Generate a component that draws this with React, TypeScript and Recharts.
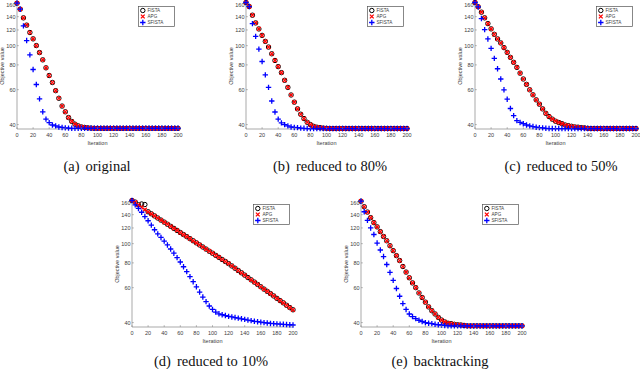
import React from "react";
import { ScatterChart, Scatter, XAxis, YAxis } from "recharts";

// iteration index of every plotted marker
const iterations = [
  0, 4, 8, 12, 16, 20, 24, 28, 32, 36, 40, 44, 48, 52, 56, 60, 64, 68, 72, 76, 80,
  84, 88, 92, 96, 100, 104, 108, 112, 116, 120, 124, 128, 132, 136, 140, 144, 148,
  152, 156, 160, 164, 168, 172, 176, 180, 184, 188, 192, 196, 200,
];
const xTicks = [0, 20, 40, 60, 80, 100, 120, 140, 160, 180, 200];
const yTicks = [40, 60, 80, 100, 120, 140, 160];
const seriesNames = ["FISTA", "APG", "SFISTA"];

// (a) original
const fistaA = [
  163.7, 152.7, 138.1, 126.9, 116.5, 108.2, 100.1, 92.3, 84.8, 77.3, 70.7, 65.2,
  59.3, 54.3, 49.6, 46.4, 43.4, 41.5, 40.2, 39.4, 38.9, 38.7, 38.5, 38.4, 38.3,
  38.3, 38.3, 38.3, 38.3, 38.3, 38.3, 38.3, 38.3, 38.3, 38.3, 38.3, 38.3, 38.3,
  38.3, 38.3, 38.3, 38.3, 38.3, 38.3, 38.3, 38.3, 38.3, 38.3, 38.3, 38.3, 38.3,
];
const apgA = [
  163.7, 152.7, 138.1, 126.9, 116.5, 108.2, 100.1, 92.3, 84.8, 77.3, 70.7, 65.2,
  59.3, 54.3, 49.6, 46.4, 43.4, 41.5, 40.2, 39.4, 38.9, 38.7, 38.5, 38.4, 38.3,
  38.3, 38.3, 38.3, 38.3, 38.3, 38.3, 38.3, 38.3, 38.3, 38.3, 38.3, 38.3, 38.3,
  38.3, 38.3, 38.3, 38.3, 38.3, 38.3, 38.3, 38.3, 38.3, 38.3, 38.3, 38.3, 38.3,
];
const sfistaA = [
  163.7, 152.7, 125.8, 106.1, 89.9, 75.8, 63.7, 53.9, 46.4, 42.6, 40.9, 39.8,
  39.4, 38.9, 38.7, 38.5, 38.4, 38.3, 38.3, 38.3, 38.3, 38.3, 38.3, 38.3, 38.3,
  38.3, 38.3, 38.3, 38.3, 38.3, 38.3, 38.3, 38.3, 38.3, 38.3, 38.3, 38.3, 38.3,
  38.3, 38.3, 38.3, 38.3, 38.3, 38.3, 38.3, 38.3, 38.3, 38.3, 38.3, 38.3, 38.3,
];

// (b) reduced to 80%
const fistaB = [
  165.0, 157.5, 142.4, 130.2, 121.4, 112.7, 105.1, 98.4, 91.0, 84.2, 78.4, 73.1,
  66.9, 61.6, 56.4, 51.9, 48.0, 45.1, 42.9, 41.1, 40.0, 39.2, 38.8, 38.6, 38.4,
  38.3, 38.2, 38.2, 38.2, 38.2, 38.2, 38.2, 38.2, 38.2, 38.2, 38.2, 38.2, 38.2,
  38.2, 38.2, 38.2, 38.2, 38.2, 38.2, 38.2, 38.2, 38.2, 38.2, 38.2, 38.2, 38.2,
];
const apgB = [
  165.0, 157.5, 142.4, 130.2, 121.4, 112.7, 105.1, 98.4, 91.0, 84.2, 78.4, 73.1,
  66.9, 61.6, 56.4, 51.9, 48.0, 45.1, 42.9, 41.1, 40.0, 39.2, 38.8, 38.6, 38.4,
  38.3, 38.2, 38.2, 38.2, 38.2, 38.2, 38.2, 38.2, 38.2, 38.2, 38.2, 38.2, 38.2,
  38.2, 38.2, 38.2, 38.2, 38.2, 38.2, 38.2, 38.2, 38.2, 38.2, 38.2, 38.2, 38.2,
];
const sfistaB = [
  165.0, 157.5, 129.2, 111.4, 96.1, 83.2, 71.2, 61.6, 52.6, 46.3, 42.6, 40.8,
  40.0, 39.4, 38.9, 38.7, 38.6, 38.4, 38.3, 38.2, 38.2, 38.2, 38.2, 38.2, 38.2,
  38.2, 38.2, 38.2, 38.2, 38.2, 38.2, 38.2, 38.2, 38.2, 38.2, 38.2, 38.2, 38.2,
  38.2, 38.2, 38.2, 38.2, 38.2, 38.2, 38.2, 38.2, 38.2, 38.2, 38.2, 38.2, 38.2,
];

// (c) reduced to 50%
const fistaC = [
  165.0, 157.0, 147.5, 138.1, 129.2, 121.5, 114.1, 108.1, 103.2, 97.7, 92.5, 87.3,
  82.4, 77.7, 72.7, 67.9, 63.8, 59.9, 56.5, 53.3, 50.7, 48.0, 45.6, 43.9, 42.6,
  41.6, 41.0, 40.4, 39.8, 39.5, 39.2, 38.9, 38.8, 38.6, 38.5, 38.3, 38.2, 38.2,
  38.2, 38.2, 38.2, 38.2, 38.2, 38.2, 38.2, 38.2, 38.2, 38.2, 38.2, 38.2, 38.2,
];
const apgC = [
  165.0, 157.0, 147.5, 138.1, 129.2, 121.5, 114.1, 108.1, 103.2, 97.7, 92.5, 87.3,
  82.4, 77.7, 72.7, 67.9, 63.8, 59.9, 56.5, 53.3, 50.7, 48.0, 45.6, 43.9, 42.6,
  41.6, 41.0, 40.4, 39.8, 39.5, 39.2, 38.9, 38.8, 38.6, 38.5, 38.3, 38.2, 38.2,
  38.2, 38.2, 38.2, 38.2, 38.2, 38.2, 38.2, 38.2, 38.2, 38.2, 38.2, 38.2, 38.2,
];
const sfistaC = [
  165.0, 157.0, 137.0, 120.5, 108.1, 96.9, 86.3, 76.5, 67.9, 59.9, 53.7, 48.2,
  44.4, 41.9, 41.0, 40.4, 39.8, 39.4, 39.1, 38.8, 38.6, 38.5, 38.3, 38.2, 38.2,
  38.2, 38.2, 38.2, 38.2, 38.2, 38.2, 38.2, 38.2, 38.2, 38.2, 38.2, 38.2, 38.2,
  38.2, 38.2, 38.2, 38.2, 38.2, 38.2, 38.2, 38.2, 38.2, 38.2, 38.2, 38.2, 38.2,
];

// (d) reduced to 10%
const fistaD = [
  165, 162, 157, 158.5, 157.5, 144.8, 141.4, 138.0, 134.7, 131.5, 128.4, 125.3,
  122.3, 119.4, 116.6, 113.8, 111.1, 108.5, 105.9, 103.4, 100.9, 98.5, 96.2, 93.9,
  91.6, 89.5, 87.3, 85.3, 83.2, 81.3, 79.3, 77.2, 75.2, 73.2, 71.3, 69.4, 67.5,
  65.7, 64.0, 62.3, 60.6, 59.0, 57.5, 56.0, 54.5, 53.0, 51.6, 50.3, 48.9, 47.6, 46.4,
];
const apgD = [
  165, 162, 157, 152.5, 148.5, 144.8, 141.4, 138.0, 134.7, 131.5, 128.4, 125.3,
  122.3, 119.4, 116.6, 113.8, 111.1, 108.5, 105.9, 103.4, 100.9, 98.5, 96.2, 93.9,
  91.6, 89.5, 87.3, 85.3, 83.2, 81.3, 79.3, 77.2, 75.2, 73.2, 71.3, 69.4, 67.5,
  65.7, 64.0, 62.3, 60.6, 59.0, 57.5, 56.0, 54.5, 53.0, 51.6, 50.3, 48.9, 47.6, 46.4,
];
const sfistaD = [
  165, 157, 150.5, 144, 137, 130.5, 124, 117.5, 112, 107.5, 103, 98.5, 94, 89.5,
  85, 80.8, 76.5, 72.3, 68.2, 64.3, 60.6, 57, 53.8, 51, 48.5, 46.6, 45.2, 44.3,
  43.8, 43.4, 43.0, 42.7, 42.4, 42.1, 41.8, 41.5, 41.2, 40.9, 40.6, 40.4, 40.2,
  40.0, 39.8, 39.6, 39.5, 39.4, 39.3, 39.2, 39.1, 39.0, 38.9,
];

// (e) backtracking
const fistaE = [
  163.7, 153.5, 144.3, 135.2, 127.6, 121.5, 115.0, 108.7, 103.4, 97.6, 92.2, 87.0,
  82.2, 76.7, 71.9, 67.3, 63.4, 60.0, 56.4, 53.5, 50.7, 48.0, 45.9, 44.2, 42.5,
  41.2, 40.3, 39.7, 39.5, 39.2, 39.0, 38.9, 38.7, 38.5, 38.5, 38.5, 38.5, 38.5,
  38.5, 38.5, 38.5, 38.5, 38.5, 38.5, 38.5, 38.5, 38.5, 38.5, 38.5, 38.5, 38.5,
];
const apgE = [
  163.7, 153.5, 144.3, 135.2, 127.6, 121.5, 115.0, 108.7, 103.4, 97.6, 92.2, 87.0,
  82.2, 76.7, 71.9, 67.3, 63.4, 60.0, 56.4, 53.5, 50.7, 48.0, 45.9, 44.2, 42.5,
  41.2, 40.3, 39.7, 39.5, 39.2, 39.0, 38.9, 38.7, 38.5, 38.5, 38.5, 38.5, 38.5,
  38.5, 38.5, 38.5, 38.5, 38.5, 38.5, 38.5, 38.5, 38.5, 38.5, 38.5, 38.5, 38.5,
];
const sfistaE = [
  163.7, 144.8, 131.1, 120.0, 111.2, 100.7, 92.9, 86.1, 78.5, 71.6, 65.3, 59.4,
  54.3, 49.9, 46.6, 44.2, 42.9, 41.9, 41.1, 40.5, 40.0, 39.7, 39.5, 39.2, 39.0,
  38.9, 38.7, 38.5, 38.5, 38.5, 38.5, 38.5, 38.5, 38.5, 38.5, 38.5, 38.5, 38.5,
  38.5, 38.5, 38.5, 38.5, 38.5, 38.5, 38.5, 38.5, 38.5, 38.5, 38.5, 38.5, 38.5,
];

const PLOT_W = 161;
const PLOT_H = 127;
const PAD_L = 22;
const PAD_T = 6;
const PAD_R = 6;
const PAD_B = 14;
const Y_DOMAIN = [38, 166];
const AXIS = "#858585";
const TEXT = "#3c3c3c";
const SANS = "'Liberation Sans', Arial, sans-serif";
const TICK_FONT = 5.5;

const toPoints = (values: number[]) =>
  iterations.map((it, i) => ({ it, value: values[i] }));

const Ring = (p: any) => (
  <circle cx={p.cx} cy={p.cy} r={2.2} fill="none" stroke="#000" strokeWidth={1} />
);
const Ex = (p: any) => {
  const s = 1.9;
  return (
    <path
      d={`M${p.cx - s},${p.cy - s}L${p.cx + s},${p.cy + s}M${p.cx - s},${p.cy + s}L${p.cx + s},${p.cy - s}`}
      stroke="#ff0000"
      strokeWidth={1.3}
      fill="none"
    />
  );
};
const Plus = (p: any) => {
  const s = 2.7;
  return (
    <path
      d={`M${p.cx - s},${p.cy}H${p.cx + s}M${p.cx},${p.cy - s}V${p.cy + s}`}
      stroke="#0000ff"
      strokeWidth={1.3}
      fill="none"
    />
  );
};
const markers = [Ring, Ex, Plus];

const BottomTick = (p: any) => (
  <g>
    <line x1={p.x} y1={p.y} x2={p.x} y2={p.y - 1.8} stroke={AXIS} strokeWidth={0.6} />
    <text x={p.x} y={p.y + 6} textAnchor="middle" dominantBaseline="central"
      fontSize={TICK_FONT} fill={TEXT} fontFamily={SANS}>
      {p.payload.value}
    </text>
  </g>
);
const LeftTick = (p: any) => (
  <g>
    <line x1={p.x} y1={p.y} x2={p.x + 1.8} y2={p.y} stroke={AXIS} strokeWidth={0.6} />
    <text x={p.x - 1.5} y={p.y} textAnchor="end" dominantBaseline="central"
      fontSize={TICK_FONT} fill={TEXT} fontFamily={SANS}>
      {p.payload.value}
    </text>
  </g>
);
const TopTick = (p: any) => (
  <line x1={p.x} y1={p.y} x2={p.x} y2={p.y + 1.8} stroke={AXIS} strokeWidth={0.6} />
);
const RightTick = (p: any) => (
  <line x1={p.x} y1={p.y} x2={p.x - 1.8} y2={p.y} stroke={AXIS} strokeWidth={0.6} />
);

function LegendBox({ left, top }: { left: number; top: number }) {
  return (
    <svg width={37} height={21} style={{ position: "absolute", left, top }}>
      <rect x={0.5} y={0.5} width={36} height={20} fill="#fff" stroke="#555" strokeWidth={0.7} />
      {seriesNames.map((name, i) => {
        const Marker = markers[i];
        return (
          <g key={name}>
            <Marker cx={4.8} cy={4.5 + i * 6} />
            <text x={9.5} y={4.5 + i * 6} dominantBaseline="central" fontSize={4.6}
              fill={TEXT} fontFamily={SANS}>
              {name}
            </text>
          </g>
        );
      })}
    </svg>
  );
}

type PanelProps = {
  left: number;
  top: number;
  series: number[][];
  caption: [string, string];
  captionX: number;
  captionY: number;
};

function Panel({ left, top, series, caption, captionX, captionY }: PanelProps) {
  return (
    <>
      <div style={{ position: "absolute", left: left - PAD_L, top: top - PAD_T }}>
        <ScatterChart
          width={PAD_L + PLOT_W + PAD_R}
          height={PAD_T + PLOT_H + PAD_B}
          margin={{ top: PAD_T, right: PAD_R, bottom: 0, left: 0 }}
        >
          <XAxis type="number" dataKey="it" domain={[0, 200]} ticks={xTicks}
            height={PAD_B} tickSize={0} tickMargin={0} tickLine={false}
            axisLine={{ stroke: AXIS, strokeWidth: 0.7 }} tick={BottomTick} interval={0} />
          <XAxis xAxisId="top" orientation="top" type="number" domain={[0, 200]}
            ticks={xTicks} height={0} tickSize={0} tickMargin={0} tickLine={false}
            axisLine={{ stroke: AXIS, strokeWidth: 0.7 }} tick={TopTick} interval={0} />
          <YAxis type="number" dataKey="value" scale="log" domain={Y_DOMAIN}
            ticks={yTicks} width={PAD_L} tickSize={0} tickMargin={0} tickLine={false}
            axisLine={{ stroke: AXIS, strokeWidth: 0.7 }} tick={LeftTick} interval={0} />
          <YAxis yAxisId="right" orientation="right" type="number" scale="log"
            domain={Y_DOMAIN} ticks={yTicks} width={0} tickSize={0} tickMargin={0}
            tickLine={false} axisLine={{ stroke: AXIS, strokeWidth: 0.7 }}
            tick={RightTick} interval={0} />
          {series.map((vals, i) => (
            <Scatter key={seriesNames[i]} name={seriesNames[i]} data={toPoints(vals)}
              shape={markers[i]} isAnimationActive={false} />
          ))}
        </ScatterChart>
      </div>
      <LegendBox left={left + PLOT_W - 40} top={top + 4} />
      <div style={{
        position: "absolute", left: left - 15, top: top + PLOT_H / 2,
        transform: "translate(-50%, -50%) rotate(-90deg)", fontSize: 5.5,
        fontFamily: SANS, color: TEXT, whiteSpace: "nowrap",
      }}>
        Objective value
      </div>
      <div style={{
        position: "absolute", left: left + PLOT_W / 2, top: top + PLOT_H + 14,
        transform: "translate(-50%, -50%)", fontSize: 5.5, fontFamily: SANS,
        color: TEXT, whiteSpace: "nowrap",
      }}>
        Iteration
      </div>
      <div style={{
        position: "absolute", left: captionX, top: captionY,
        transform: "translate(-50%, -50%)", fontSize: 14.5,
        fontFamily: "'Liberation Serif', 'Times New Roman', serif",
        color: "#111", whiteSpace: "nowrap",
      }}>
        {caption[0]}
        <span style={{ marginLeft: 6 }}>{caption[1]}</span>
      </div>
    </>
  );
}

export default function App() {
  return (
    <div style={{ position: "absolute", left: 0, top: 0, width: 640, height: 369, background: "#fff", overflow: "hidden" }}>
      <Panel left={17} top={2} series={[fistaA, apgA, sfistaA]} caption={["(a)", "original"]} captionX={97} captionY={166} />
      <Panel left={246} top={2} series={[fistaB, apgB, sfistaB]} caption={["(b)", "reduced to 80%"]} captionX={330} captionY={166} />
      <Panel left={475} top={2} series={[fistaC, apgC, sfistaC]} caption={["(c)", "reduced to 50%"]} captionX={561} captionY={166} />
      <Panel left={132} top={200} series={[fistaD, apgD, sfistaD]} caption={["(d)", "reduced to 10%"]} captionX={211} captionY={361} />
      <Panel left={361} top={200} series={[fistaE, apgE, sfistaE]} caption={["(e)", "backtracking"]} captionX={440} captionY={361} />
    </div>
  );
}
